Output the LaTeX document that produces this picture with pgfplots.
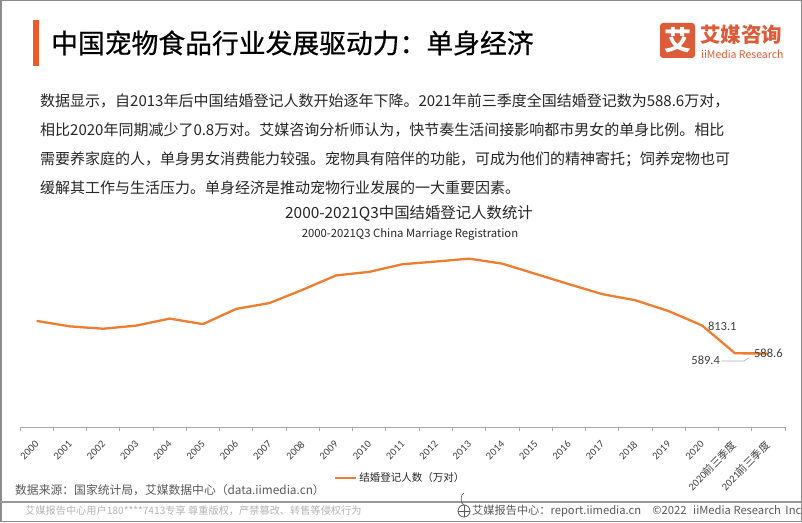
\documentclass[border=0pt]{standalone}
\usepackage{fontspec}
\usepackage{graphicx}
\setmainfont{Noto Sans CJK SC}
\newfontfamily\cjk{Noto Sans CJK SC}
\newfontfamily\cjkbold[FakeBold=0.6]{Noto Sans CJK SC}
\newfontfamily\carlito{Carlito}
\usepackage{pgfplots}
\pgfplotsset{compat=1.18}
\newcommand\rl[1]{\rotatebox{45}{#1}}
\definecolor{lineorange}{HTML}{ED7D31}
\definecolor{barorange}{HTML}{EE5A2A}
\definecolor{logo}{HTML}{DC5B38}
\definecolor{txt}{HTML}{262626}
\definecolor{tickc}{HTML}{404040}
\definecolor{axisgray}{HTML}{A6A6A6}
\definecolor{srcgray}{HTML}{595959}
\definecolor{lightgray}{HTML}{B4B4B4}
\begin{document}
\begin{tikzpicture}[x=1pt,y=1pt]
\path[use as bounding box] (0,0) rectangle (802,522);
\fill[white] (0,0) rectangle (802,522);
\draw[black!45, line width=1.5pt] (0.75,0.75) rectangle (801.25,521.25);
\begin{scope}[yshift=522pt, y=-1pt]
% title
\fill[barorange] (33,20) rectangle (39,66);
\node[anchor=west, font=\cjkbold\fontsize{26.8}{30}\selectfont, text=black, inner sep=0] at (51,43) {中国宠物食品行业发展驱动力：单身经济};
% logo
\fill[logo, rounded corners=3pt] (660,23) rectangle (695,58);
\node[text=white, font=\fontsize{27}{30}\selectfont\bfseries, inner sep=0] at (677.5,40.5) {艾};
\node[anchor=west, text=logo, font=\fontsize{20.5}{22}\selectfont\bfseries, inner sep=0] at (700,35) {艾媒咨询};
\node[anchor=west, text=logo, font=\fontsize{10.5}{12}\selectfont, inner sep=0] at (701,54) {iiMedia Research};
% paragraph
\begin{scope}[every node/.style={anchor=west, inner sep=0, text=txt, font=\fontsize{15}{18}\selectfont}]
\node at (40,101) {数据显示，自2013年后中国结婚登记人数开始逐年下降。2021年前三季度全国结婚登记数为588.6万对，};
\node at (40,130) {相比2020年同期减少了0.8万对。艾媒咨询分析师认为，快节奏生活间接影响都市男女的单身比例。相比};
\node at (40,159) {需要养家庭的人，单身男女消费能力较强。宠物具有陪伴的功能，可成为他们的精神寄托；饲养宠物也可};
\node at (40,188) {缓解其工作与生活压力。单身经济是推动宠物行业发展的一大重要因素。};
\end{scope}
% chart titles
\node[inner sep=0, text=txt, font=\fontsize{15.4}{18}\selectfont] at (409,213) {2000-2021Q3中国结婚登记人数统计};
\node[inner sep=0, text=txt, font=\fontsize{11.3}{13}\selectfont] at (410,234) {2000-2021Q3 China Marriage Registration};
% source
\node[anchor=west, inner sep=0, text=srcgray, font=\fontsize{11.8}{14}\selectfont] at (15,490) {数据来源：国家统计局，艾媒数据中心（data.iimedia.cn）};
% footer
\fill[black!40] (0,501) rectangle (802,503);
\node[anchor=west, inner sep=0, text=lightgray, font=\fontsize{10.2}{12}\selectfont] at (25,511) {艾媒报告中心用户180****7413专享 尊重版权，严禁篡改、转售等侵权行为};
\draw[srcgray, line width=0.8pt] (464,511) circle (6);
\draw[srcgray, line width=0.6pt] (458,511) -- (470,511) (464,505) -- (464,517);
\draw[srcgray, line width=0.6pt] (464,505) arc[start angle=90, end angle=270, x radius=2.8, y radius=6];
\node[anchor=west, inner sep=0, text=srcgray, font=\fontsize{11.2}{13}\selectfont] at (472,511) {艾媒报告中心：report.iimedia.cn\hspace{1em}©2022\hspace{0.6em}iiMedia Research\hspace{0.4em}Inc};
\end{scope}
\begin{axis}[at={(20pt,95pt)}, anchor=south west, scale only axis,
  width=765pt, height=200pt,
  xmin=-0.5, xmax=22.5, ymin=0, ymax=1600,
  axis x line=bottom, axis y line=none,
  axis line style={-, axisgray, line width=0.8pt},
  xtick={0,...,22},
  xticklabels={\rl{2000},\rl{2001},\rl{2002},\rl{2003},\rl{2004},\rl{2005},\rl{2006},\rl{2007},\rl{2008},\rl{2009},\rl{2010},\rl{2011},\rl{2012},\rl{2013},\rl{2014},\rl{2015},\rl{2016},\rl{2017},\rl{2018},\rl{2019},\rl{2020},{\rl{2020{\cjk 前三季度}}},{\rl{2021{\cjk 前三季度}}}},
  major tick length=0pt,
  minor xtick={-0.5,0.5,...,22.5},
  minor tick length=4pt, tick align=outside,
  minor tick style={axisgray, line width=0.8pt},
  xticklabel style={xshift=3pt, yshift=-13pt, anchor=north east, font=\carlito\fontsize{10.5}{11}\selectfont, text=tickc, inner sep=0pt},
  clip=false,
  legend style={at={(0.497,-0.255)}, anchor=center, draw=none, fill=none, font=\fontsize{10.5}{12}\selectfont, text=txt, inner sep=0pt},
  legend image code/.code={\draw[lineorange, line width=2.2pt] (0pt,0pt) -- (21pt,0pt);},
]
\addplot[lineorange, line width=2.3pt, line join=round, mark=none] coordinates {
(0,848.5) (1,805.0) (2,786.0) (3,811.4) (4,867.2) (5,823.1) (6,945.0) (7,991.4) (8,1098.3) (9,1212.4) (10,1241.0) (11,1302.4) (12,1323.6) (13,1346.9) (14,1306.7) (15,1224.7) (16,1142.8) (17,1063.1) (18,1013.9) (19,927.3) (20,813.1) (21,589.4) (22,588.6)
};
\addlegendentry{结婚登记人数（万对）}
\node[anchor=west, text=tickc, font=\carlito\fontsize{12.5}{14}\selectfont, inner sep=0] at (axis cs:20,805) [xshift=6pt] {813.1};
\node[anchor=east, text=tickc, font=\carlito\fontsize{12.5}{14}\selectfont, inner sep=0] at (axis cs:21,536) [xshift=-15pt] {589.4};
\node[text=tickc, font=\carlito\fontsize{12.5}{14}\selectfont, inner sep=0] at (axis cs:22,592) {588.6};
\draw[black!30, line width=0.6pt] (axis cs:21,560) ++(-13pt,-4pt) -- ++(5pt,0) -- ++(5pt,3pt);
\end{axis}
\end{tikzpicture}
\end{document}
